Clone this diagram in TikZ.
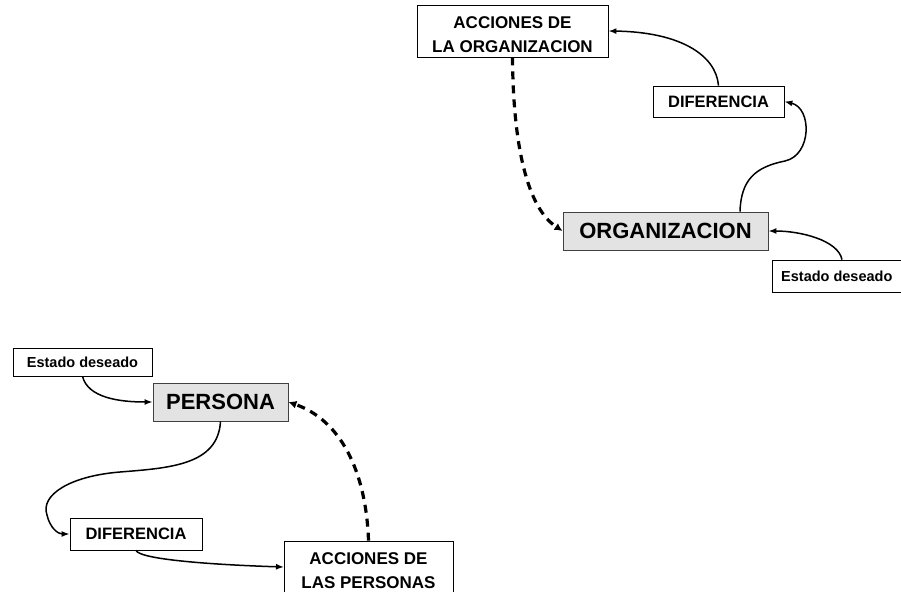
\documentclass[tikz,border=0pt]{standalone}
\usepackage{fontspec}
\setmainfont{Liberation Sans}
\usetikzlibrary{arrows.meta}
\definecolor{boxgray}{HTML}{E3E3E3}
\tikzset{
  box/.style={draw=black, line width=0.8pt, fill=white, inner sep=0pt, font=\bfseries},
  txt/.style={inner sep=0pt, align=center, font=\bfseries},
  mainbox/.style={draw=black!75, line width=0.9pt, fill=boxgray, inner sep=0pt, font=\bfseries\fontsize{22}{24}\selectfont},
  conn/.style={line width=1.5pt, -{Latex[length=8pt,width=6pt]}},
  dashconn/.style={line width=3.2pt, dash pattern=on 8pt off 6pt, -{Latex[length=8pt,width=8pt]}},
}
\begin{document}
\begin{tikzpicture}[x=1pt,y=-1pt]
\useasboundingbox (0,0) rectangle (901,591);
% top diagram
\node[box, minimum width=191pt, minimum height=52pt] (accorg) at (512.5,31) {};
\node[txt, font=\bfseries\fontsize{17}{24}\selectfont] (accorgtxt) at (512.5,35) {ACCIONES DE\\LA ORGANIZACION};
\node[box, minimum width=131pt, minimum height=31pt, font=\bfseries\fontsize{16.5}{18}\selectfont] (diftop) at (718.5,101.5) {DIFERENCIA};
\node[mainbox, minimum width=205pt, minimum height=38pt] (org) at (665.5,231) {ORGANIZACION};
\node[box, minimum width=140pt, minimum height=32pt, anchor=west] (esttop) at (772,276) {};
\node[txt, anchor=west, font=\bfseries\fontsize{14.5}{16}\selectfont] (esttoptxt) at (781,276) {Estado deseado};
% bottom diagram
\node[box, minimum width=139pt, minimum height=28pt, font=\bfseries\fontsize{14.5}{16}\selectfont] (estbot) at (82.5,362) {Estado deseado};
\node[mainbox, minimum width=135pt, minimum height=38pt] (per) at (220.5,402) {PERSONA};
\node[box, minimum width=132pt, minimum height=32pt, font=\bfseries\fontsize{16.5}{18}\selectfont] (difbot) at (136,534) {DIFERENCIA};
\node[box, minimum width=169pt, minimum height=64pt] (accper) at (368.5,573) {};
\node[txt, font=\bfseries\fontsize{17}{24}\selectfont] (accpertxt) at (368.5,571) {ACCIONES DE\\LAS PERSONAS};
\coordinate (accperin) at (284,567);
% top connectors
\draw[conn] (diftop.north) .. controls (716,55) and (680,32) .. (accorg.east);
\draw[conn] ([xshift=74.5pt]org.north) .. controls (741,180) and (755,167) .. (785,161)
   .. controls (812,155) and (812,108) .. (diftop.east);
\draw[conn] ([xshift=70pt]esttop.north west) .. controls (838,240) and (800,231) .. (org.east);
\draw[dashconn] (accorg.south) .. controls (513,130) and (523,205) .. (org.west);
% bottom connectors
\draw[conn] (estbot.south) .. controls (88,398) and (120,402) .. (per.west);
\draw[conn] (per.south) .. controls (218,465) and (170,468) .. (120,472)
   .. controls (70,476) and (40,495) .. (47,515)
   .. controls (50,528) and (58,534) .. (difbot.west);
\draw[conn] (difbot.south) .. controls (140,560) and (220,565) .. (accperin);
\draw[dashconn] (accper.north) .. controls (366,470) and (340,420) .. (per.east);
\end{tikzpicture}
\end{document}
